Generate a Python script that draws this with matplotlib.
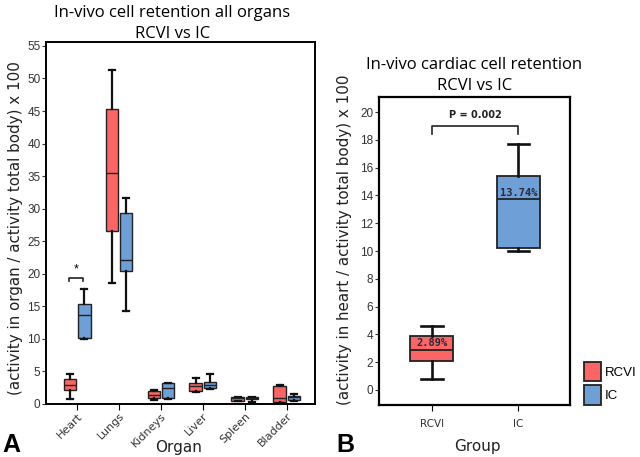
import numpy as np
import matplotlib.pyplot as plt

organs = ['Heart', 'Lungs', 'Kidneys', 'Liver', 'Spleen', 'Bladder']
groups = ['RCVI', 'IC']
colors = ['#fd6464', '#6e9fd6']

# five-number summaries per organ: low whisker, Q1, median, Q3, high whisker
rcvi_low = [0.8, 18.6, 0.6, 1.8, 0.4, 0.2]
rcvi_q1 = [2.1, 26.6, 0.9, 2.05, 0.5, 0.3]
rcvi_med = [2.89, 35.5, 1.4, 2.7, 0.85, 0.9]
rcvi_q3 = [3.85, 45.3, 2.05, 3.3, 1.1, 2.7]
rcvi_high = [4.6, 51.3, 2.2, 4.05, 1.1, 2.9]

ic_low = [10.0, 14.3, 0.8, 2.3, 0.3, 0.4]
ic_q1 = [10.2, 20.4, 0.95, 2.4, 0.7, 0.6]
ic_med = [13.74, 22.1, 2.4, 2.9, 0.85, 1.0]
ic_q3 = [15.4, 29.3, 3.2, 3.4, 1.0, 1.3]
ic_high = [17.7, 31.7, 3.3, 4.6, 1.0, 1.5]

heart_pval = 'P = 0.002'


def stats(low, q1, med, q3, high):
    return [dict(whislo=a, q1=b, med=c, q3=d, whishi=e, fliers=[])
            for a, b, c, d, e in zip(low, q1, med, q3, high)]


def draw(ax, st, pos, width, color, lw):
    bp = ax.bxp(st, positions=pos, widths=width, patch_artist=True,
                showfliers=False, manage_ticks=False,
                boxprops=dict(facecolor=color, edgecolor='#222222', linewidth=lw),
                medianprops=dict(color='#222222', linewidth=lw),
                whiskerprops=dict(color='#111111', linewidth=lw + 0.6),
                capprops=dict(color='#111111', linewidth=lw + 0.6))
    return bp


plt.rcParams['font.family'] = 'Liberation Sans'
title_font = 'Open Sans'
label_font = 'DejaVu Sans'
fig = plt.figure(figsize=(6.4, 4.57), dpi=100)

# ---- panel A
ax = fig.add_axes([0.072, 0.116, 0.420, 0.792])
x = np.arange(len(organs))
rcvi_st = stats(rcvi_low, rcvi_q1, rcvi_med, rcvi_q3, rcvi_high)
ic_st = stats(ic_low, ic_q1, ic_med, ic_q3, ic_high)
draw(ax, rcvi_st, x - 0.17, 0.3, colors[0], 1.0)
draw(ax, ic_st, x + 0.17, 0.3, colors[1], 1.0)
ax.set_xlim(-0.74, 5.67)
ax.set_ylim(0, 55.6)
ax.set_yticks(np.arange(0, 56, 5))
ax.set_xticks(x)
ax.set_xticklabels(organs, rotation=45, ha='right', rotation_mode='anchor',
                   fontsize=8, color='#333333', family=label_font)
ax.tick_params(axis='y', labelsize=8.5, colors='#333333', length=3, pad=1)
ax.tick_params(axis='x', length=4, pad=1)
for s in ax.spines.values():
    s.set_linewidth(1.4)
ax.set_ylabel('(activity in organ / activity total body) x 100', fontsize=10.9,
              color='#222222', family=label_font, va='center')
ax.yaxis.set_label_coords(-0.115, 0.486)
ax.set_xlabel('Organ', fontsize=11, color='#222222', family=label_font, va='center')
ax.xaxis.set_label_coords(0.494, -0.12)
ax.set_title('In-vivo cell retention all organs\nRCVI vs IC', fontsize=12,
             family=title_font, linespacing=1.4, pad=3, x=0.47)
# significance bracket on heart
bx0, bx1, by = x[0] - 0.2, x[0] + 0.15, 19.4
ax.plot([bx0, bx0, bx1, bx1], [by - 0.5, by, by, by - 0.5], color='#222222', lw=1.2)
ax.text((bx0 + bx1) / 2, by + 0.4, '*', ha='center', va='bottom', fontsize=9)

# ---- panel B
ax2 = fig.add_axes([0.592, 0.114, 0.298, 0.674])
rcvi_b = stats(rcvi_low[:1], rcvi_q1[:1], rcvi_med[:1], rcvi_q3[:1], rcvi_high[:1])
ic_b = stats(ic_low[:1], ic_q1[:1], ic_med[:1], ic_q3[:1], ic_high[:1])
b1 = draw(ax2, rcvi_b, [0], 0.5, colors[0], 1.3)
b2 = draw(ax2, ic_b, [1], 0.5, colors[1], 1.3)
ax2.set_xlim(-0.61, 1.59)
ax2.set_ylim(-1.08, 21.1)
ax2.set_yticks(np.arange(0, 21, 2))
ax2.set_xticks([0, 1])
ax2.set_xticklabels(groups, fontsize=7.5, color='#333333', family=label_font)
ax2.tick_params(axis='y', labelsize=8.5, colors='#333333', length=3, pad=1)
ax2.tick_params(axis='x', length=4, pad=6)
for s in ax2.spines.values():
    s.set_linewidth(1.6)
ax2.set_ylabel('(activity in heart / activity total body) x 100', fontsize=10.9,
               color='#222222', family=label_font, va='center')
ax2.yaxis.set_label_coords(-0.178, 0.535)
ax2.set_xlabel('Group', fontsize=11, color='#222222', family=label_font, va='center')
ax2.xaxis.set_label_coords(0.518, -0.136)
ax2.set_title('In-vivo cardiac cell retention\nRCVI vs IC', fontsize=12,
              family=title_font, linespacing=1.45, pad=5)
for i, m in enumerate([rcvi_med[0], ic_med[0]]):
    ax2.text(i, m + 0.1, '{:.2f}%'.format(m), ha='center', va='bottom',
             fontsize=7.5, fontweight='bold', color='#2a2a3a', family='DejaVu Sans Mono')
ax2.plot([0, 0, 1, 1], [18.4, 19.0, 19.0, 18.4], color='#222222', lw=1.2)
ax2.text(0.5, 19.45, heart_pval, ha='center', va='bottom', fontsize=7,
         fontweight='bold', color='#222222', family=label_font)
ax2.legend([b1['boxes'][0], b2['boxes'][0]], groups, loc='lower left',
           bbox_to_anchor=(1.075, 0.0), frameon=False, fontsize=9.5,
           borderpad=0, borderaxespad=0,
           handlelength=1.3, handleheight=1.9, handletextpad=0.3, labelspacing=0.3)

fig.text(0.003, 0.012, 'A', fontsize=18, fontweight='bold')
fig.text(0.525, 0.012, 'B', fontsize=18, fontweight='bold')

fig.savefig('out.png', dpi=100)
